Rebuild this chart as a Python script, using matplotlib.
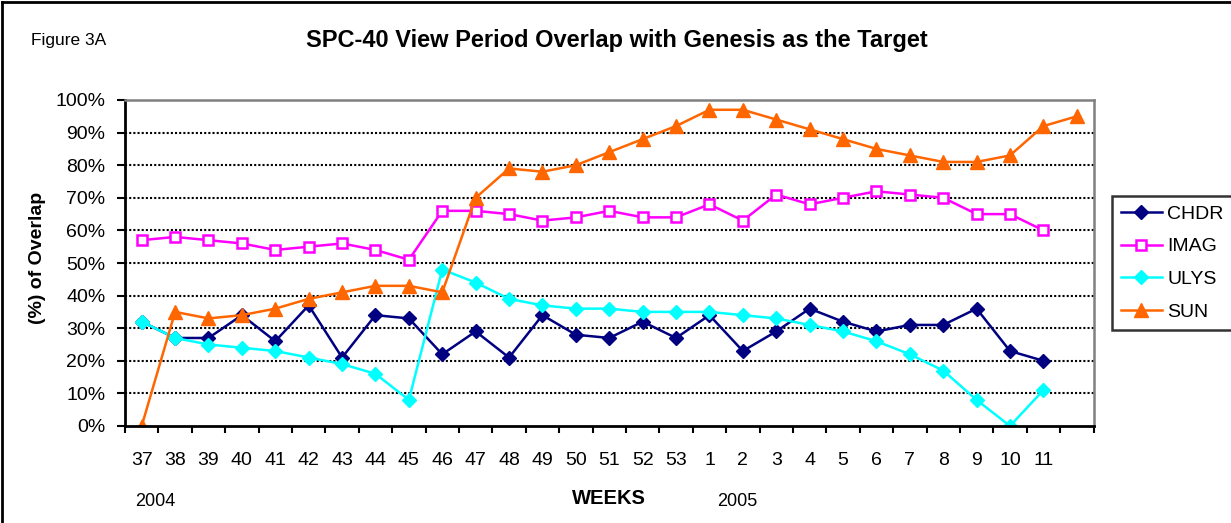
import numpy as np
import matplotlib
matplotlib.use('Agg')
import matplotlib.pyplot as plt
from matplotlib.lines import Line2D

plt.rcParams['font.family'] = ['Liberation Sans', 'DejaVu Sans']

# data (percent), one value per week; last slot only has SUN
weeks = ['37', '38', '39', '40', '41', '42', '43', '44', '45', '46', '47', '48', '49', '50',
         '51', '52', '53', '1', '2', '3', '4', '5', '6', '7', '8', '9', '10', '11', '']
chdr = [32, 27, 27, 34, 26, 37, 21, 34, 33, 22, 29, 21, 34, 28, 27, 32, 27, 34, 23, 29,
        36, 32, 29, 31, 31, 36, 23, 20, np.nan]
imag = [57, 58, 57, 56, 54, 55, 56, 54, 51, 66, 66, 65, 63, 64, 66, 64, 64, 68, 63, 71,
        68, 70, 72, 71, 70, 65, 65, 60, np.nan]
ulys = [32, 27, 25, 24, 23, 21, 19, 16, 8, 48, 44, 39, 37, 36, 36, 35, 35, 35, 34, 33,
        31, 29, 26, 22, 17, 8, 0, 11, np.nan]
sun = [0, 35, 33, 34, 36, 39, 41, 43, 43, 41, 70, 79, 78, 80, 84, 88, 92, 97, 97, 94,
       91, 88, 85, 83, 81, 81, 83, 92, 95]

W, H = 1231, 523
fig = plt.figure(figsize=(W / 100, H / 100), dpi=100)
ax = fig.add_axes([125 / W, 1 - 426 / H, 968.5 / W, 326 / H])

x = np.arange(len(weeks))
ax.plot(x, chdr, color='#000080', lw=1.8, marker='D', ms=7.5, label='CHDR')
ax.plot(x, imag, color='#FF00FF', lw=1.8, marker='s', ms=7, mfc='white', mew=1.8, label='IMAG')
ax.plot(x, ulys, color='#00FFFF', lw=1.8, marker='D', ms=7.5, label='ULYS')
ax.plot(x, sun, color='#FF6600', lw=1.8, marker='^', ms=9.5, label='SUN')

ax.set_xlim(-0.5, len(weeks) - 0.5)
ax.set_ylim(0, 100)
ax.set_yticks(np.arange(0, 101, 10))
ax.set_yticklabels(['%d%%' % v for v in range(0, 101, 10)], fontsize=14)
ax.set_xticks(x)
ax.set_xticklabels(weeks, fontsize=14)
ax.set_xticks(np.arange(-0.5, len(weeks)), minor=True)
ax.tick_params(axis='x', which='major', length=0, pad=19)
ax.tick_params(axis='x', which='minor', length=5, width=1.5, direction='out')
ax.tick_params(axis='y', length=6, width=1.5, direction='out', pad=8)

for v in range(10, 100, 10):
    ax.axhline(v, color='black', lw=1.5, ls=(0, (1, 1)), zorder=0)

for s in ['top', 'right']:
    ax.spines[s].set_color('#808080')
    ax.spines[s].set_linewidth(1.8)
for s in ['left', 'bottom']:
    ax.spines[s].set_color('black')
    ax.spines[s].set_linewidth(2)

leg = fig.legend(loc='center left', bbox_to_anchor=(1112 / W, 1 - 263 / H), fontsize=14,
                 frameon=True, fancybox=False, handlelength=2.1, labelspacing=0.78,
                 borderpad=0.45, handletextpad=0.3, borderaxespad=0)
leg.get_frame().set_edgecolor('black')
leg.get_frame().set_linewidth(1.8)

fig.text(617 / W, 1 - 40 / H, 'SPC-40 View Period Overlap with Genesis as the Target',
         ha='center', va='center', fontsize=17, fontweight='bold')
fig.text(31 / W, 1 - 40 / H, 'Figure 3A', ha='left', va='center', fontsize=12.5)
fig.text(38 / W, 1 - 258 / H, '(%) of Overlap', ha='center', va='center', rotation=90,
         fontsize=14, fontweight='bold')
fig.text(609 / W, 1 - 498 / H, 'WEEKS', ha='center', va='center', fontsize=14.5, fontweight='bold')
fig.text(155 / W, 1 - 502 / H, '2004', ha='center', va='center', fontsize=13)
fig.text(737 / W, 1 - 502 / H, '2005', ha='center', va='center', fontsize=13)

# outer frame (left and top edges visible)
fig.add_artist(Line2D([2 / W, 2 / W], [0, 1 - 2 / H], transform=fig.transFigure, color='black', lw=2))
fig.add_artist(Line2D([2 / W, 1], [1 - 2 / H, 1 - 2 / H], transform=fig.transFigure, color='black', lw=2))

fig.savefig('out.png', dpi=100)
